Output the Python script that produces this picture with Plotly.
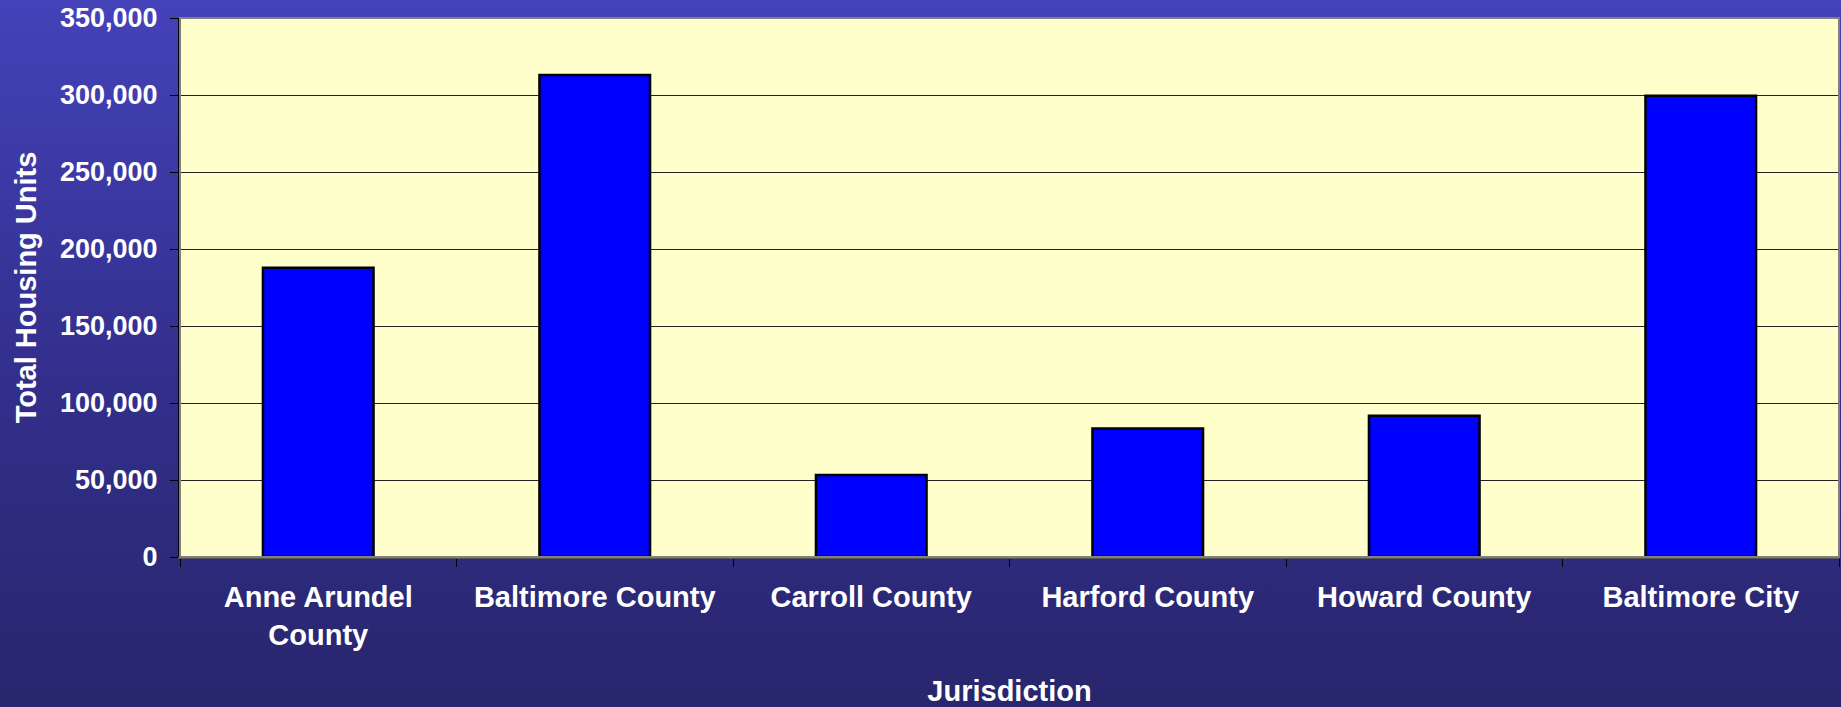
import base64

import plotly.graph_objects as go

# ── Data ──────────────────────────────────────────────────────────────────────
jurisdictions = [
    "Anne Arundel<br>County",
    "Baltimore County",
    "Carroll County",
    "Harford County",
    "Howard County",
    "Baltimore City",
]
housing_units = [187900, 313000, 53200, 83400, 91800, 299500]
y_ticks = [0, 50000, 100000, 150000, 200000, 250000, 300000, 350000]

FONT = "Arial, Liberation Sans, sans-serif"
W, H = 1841, 707
ML, MR, MT, MB = 180, 2, 18, 150
PW, PH = W - ML - MR, H - MT - MB

# vertical blue gradient used as the slide background
svg = (
    '<svg xmlns="http://www.w3.org/2000/svg" width="100" height="100" preserveAspectRatio="none">'
    '<defs><linearGradient id="g" x1="0" y1="0" x2="0" y2="1">'
    '<stop offset="0" stop-color="#4542BA"/>'
    '<stop offset="0.5" stop-color="#33308F"/>'
    '<stop offset="1" stop-color="#28266C"/>'
    '</linearGradient></defs>'
    '<rect width="100" height="100" fill="url(#g)"/></svg>'
)
bg_src = "data:image/svg+xml;base64," + base64.b64encode(svg.encode()).decode()

fig = go.Figure()
fig.add_trace(go.Bar(
    x=jurisdictions,
    y=housing_units,
    marker=dict(color="#0000FF", line=dict(color="black", width=2.5)),
    width=0.4,
))

fig.update_layout(
    width=W, height=H,
    margin=dict(l=ML, r=MR, t=MT, b=MB),
    paper_bgcolor="#33308F",
    plot_bgcolor="#FFFFCC",
    showlegend=False,
    font=dict(family=FONT, color="white", size=29, weight="bold"),
    images=[dict(
        source=bg_src, xref="paper", yref="paper",
        x=-ML / PW, y=1 + MT / PH, sizex=W / PW, sizey=H / PH,
        xanchor="left", yanchor="top", sizing="stretch", layer="below",
    )],
    shapes=[
        dict(type="rect", xref="paper", yref="paper", x0=0, x1=1, y0=0, y1=1,
             fillcolor="#FFFFCC", line=dict(width=0), layer="below"),
        dict(type="rect", xref="paper", yref="paper", x0=0, x1=1, y0=0, y1=1,
             line=dict(color="#808080", width=2), layer="above"),
    ],
)

fig.update_xaxes(
    title=dict(text="Jurisdiction", font=dict(size=29), standoff=34),
    tickfont=dict(size=29),
    ticks="outside", ticklen=8, tickcolor="black", tickson="boundaries",
    ticklabelstandoff=13,
    showline=True, linecolor="#555555", linewidth=2,
    showgrid=False, automargin=False,
)
fig.update_yaxes(
    title=dict(text="Total Housing Units", font=dict(size=29), standoff=15),
    range=[0, 350000],
    tickvals=y_ticks, tickformat=",d",
    tickfont=dict(size=27),
    ticks="outside", ticklen=8, tickcolor="black",
    ticklabelstandoff=7,
    showline=True, linecolor="black", linewidth=2,
    showgrid=True, gridcolor="#222222", gridwidth=1,
    zeroline=False, automargin=False,
)

fig.write_html(
    "out.html",
    config={"displayModeBar": False},
    post_script="document.body.style.margin='0';document.body.style.overflow='hidden';",
)
